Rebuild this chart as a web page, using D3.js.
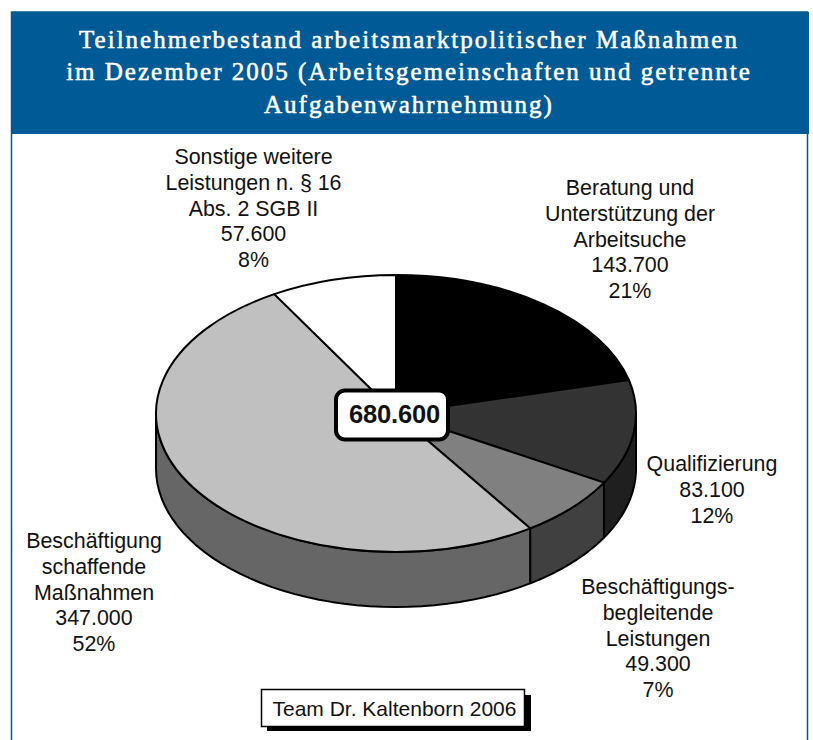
<!DOCTYPE html>
<html lang="de">
<head>
  <meta charset="UTF-8" />
  <title>Teilnehmerbestand arbeitsmarktpolitischer Maßnahmen</title>
  <script src="https://cdn.jsdelivr.net/npm/d3@7/dist/d3.min.js"></script>
  <style>
    html, body { margin: 0; padding: 0; background: #fff; }
    svg { display: block; }
    text { font-family: "Liberation Sans", Arial, sans-serif; fill: #111; }
    .title { font-family: "Liberation Serif", serif; fill: #fff; font-size: 25px; letter-spacing: 2px; stroke: #fff; stroke-width: 0.55px; }
    .label { font-size: 21.4px; }
  </style>
</head>
<body>
  <svg id="chart" width="813" height="740"></svg>
  <script>
    // Werte aus der Abbildung
    const categories = ["Beratung und Unterstützung der Arbeitsuche", "Qualifizierung", "Beschäftigungsbegleitende Leistungen", "Beschäftigung schaffende Maßnahmen", "Sonstige weitere Leistungen n. § 16 Abs. 2 SGB II"];
    const values = [143700, 83100, 49300, 347000, 57600];
    const percents = ["21%", "12%", "7%", "52%", "8%"];
    const labelLines = [
      ["Beratung und", "Unterstützung der", "Arbeitsuche"],
      ["Qualifizierung"],
      ["Beschäftigungs-", "begleitende", "Leistungen"],
      ["Beschäftigung", "schaffende", "Maßnahmen"],
      ["Sonstige weitere", "Leistungen n. § 16", "Abs. 2 SGB II"]
    ];
    const topColors = ["#000000", "#333333", "#808080", "#c0c0c0", "#ffffff"];
    const sideColors = ["#000000", "#1f1f1f", "#404040", "#666666", "#c0c0c0"];
    const titleLines = [
      "Teilnehmerbestand arbeitsmarktpolitischer Maßnahmen",
      "im Dezember 2005 (Arbeitsgemeinschaften und getrennte",
      "Aufgabenwahrnehmung)"
    ];
    const totalLabel = "680.600";
    const sourceLabel = "Team Dr. Kaltenborn 2006";

    const de = d3.formatLocale({ decimal: ",", thousands: ".", grouping: [3], currency: ["", "€"] }).format(",");

    const svg = d3.select("#chart");
    const blue = "#005a96";

    // Rahmen + Kopf
    svg.append("rect").attr("x", 11.5).attr("y", 12).attr("width", 796).attr("height", 740)
      .attr("fill", "#fff").attr("stroke", blue).attr("stroke-width", 1.5);
    svg.append("rect").attr("x", 11).attr("y", 12).attr("width", 798).attr("height", 122).attr("fill", blue);
    svg.selectAll(".title").data(titleLines).enter().append("text")
      .attr("class", "title")
      .attr("x", 409)
      .attr("y", (d, i) => 47.5 + i * 32.5)
      .attr("text-anchor", "middle")
      .text(d => d);

    // Torte: Ellipse = Kreis mit gestauchter y-Achse
    const cx = 396, cy = 413.5, rx = 240, ry = 138.5, depth = 55;
    const pie = d3.pie().sort(null).value(d => d);
    const arcs = pie(values);
    const arc = d3.arc().innerRadius(0).outerRadius(rx);
    const px = a => cx + rx * Math.sin(a);
    const py = a => cy - ry * Math.cos(a);

    // Seitenwand: sichtbar nur zwischen 90° und 270°
    const wall = svg.append("g");
    arcs.forEach((d, i) => {
      const a0 = Math.max(d.startAngle, Math.PI / 2);
      const a1 = Math.min(d.endAngle, Math.PI * 3 / 2);
      if (a1 <= a0) return;
      const steps = d3.range(0, 41).map(k => a0 + (a1 - a0) * k / 40);
      const outline = steps.map(a => [px(a), py(a)])
        .concat(steps.slice().reverse().map(a => [px(a), py(a) + depth]));
      wall.append("path")
        .attr("d", d3.line()(outline) + "Z")
        .attr("fill", sideColors[i])
        .attr("stroke", "#000")
        .attr("stroke-width", 2)
        .attr("stroke-linejoin", "round");
    });

    // Deckel
    svg.append("g")
      .attr("transform", `translate(${cx},${cy}) scale(1,${ry / rx})`)
      .selectAll("path").data(arcs).enter().append("path")
      .attr("d", arc)
      .attr("fill", (d, i) => topColors[i])
      .attr("stroke", "#000")
      .attr("stroke-width", 2)
      .attr("stroke-linejoin", "round")
      .attr("vector-effect", "non-scaling-stroke")
      .append("title").text((d, i) => categories[i]);

    // Summenfeld
    svg.append("rect").attr("x", 336).attr("y", 390.5).attr("width", 112).attr("height", 49).attr("rx", 9)
      .attr("fill", "#fff").attr("stroke", "#000").attr("stroke-width", 4);
    svg.append("text").attr("x", 394.5).attr("y", 423).attr("text-anchor", "middle")
      .attr("font-size", 25.5).attr("font-weight", 700).attr("letter-spacing", -0.2).text(totalLabel);

    // Beschriftung: Anker je Segment
    const labelPos = [[630, 195], [712, 471], [658, 594], [94, 548], [253.5, 164]];
    const lh = 25.8;
    labelLines.forEach((lines, i) => {
      const rows = lines.concat([de(values[i]), percents[i]]);
      svg.append("g").selectAll("text").data(rows).enter().append("text")
        .attr("class", "label")
        .attr("x", labelPos[i][0])
        .attr("y", (d, k) => labelPos[i][1] + k * lh)
        .attr("text-anchor", "middle")
        .text(d => d);
    });

    // Quelle
    svg.append("rect").attr("x", 267).attr("y", 695).attr("width", 264).attr("height", 36).attr("fill", "#000");
    svg.append("rect").attr("x", 261.5).attr("y", 689.5).attr("width", 263).attr("height", 37)
      .attr("fill", "#fff").attr("stroke", "#000").attr("stroke-width", 1.5);
    svg.append("text").attr("x", 394.5).attr("y", 716).attr("text-anchor", "middle")
      .attr("font-size", 21).text(sourceLabel);
  </script>
</body>
</html>
